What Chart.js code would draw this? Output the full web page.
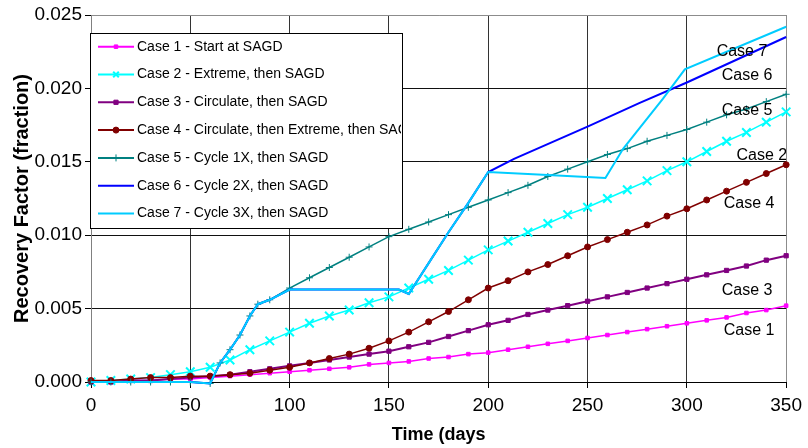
<!DOCTYPE html>
<html><head><meta charset="utf-8">
<script src="https://cdn.jsdelivr.net/npm/chart.js@4/dist/chart.umd.min.js"></script>
<style>html,body{margin:0;padding:0;background:#fff;}#wrap{width:808px;height:448px;}</style>
</head><body><div id="wrap"><canvas id="c" width="808" height="448"></canvas></div>
<script>
const seriesNames = [
  'Case 1 - Start at SAGD',
  'Case 2 - Extreme, then SAGD',
  'Case 3 - Circulate, then SAGD',
  'Case 4 - Circulate, then Extreme, then SAGD',
  'Case 5 - Cycle 1X, then SAGD',
  'Case 6 - Cycle 2X, then SAGD',
  'Case 7 - Cycle 3X, then SAGD'
];
const days10 = [0,10,20,30,40,50,60,70,80,90,100,110,120,130,140,150,160,170,180,190,200,210,220,230,240,250,260,270,280,290,300,310,320,330,340,350];
const case1 = [0.0000,0.0000,0.0001,0.0001,0.0002,0.0002,0.0003,0.0004,0.0005,0.0006,0.0007,0.0008,0.0009,0.0010,0.0012,0.0013,0.0014,0.0016,0.0017,0.0019,0.0020,0.0022,0.0024,0.0026,0.0028,0.0030,0.0032,0.0034,0.0036,0.0038,0.0040,0.0042,0.0044,0.0047,0.0049,0.0052];
const case2 = [0.0000,0.0001,0.0002,0.0003,0.0005,0.0007,0.0010,0.0015,0.0022,0.0028,0.0034,0.0040,0.0045,0.0049,0.0054,0.0058,0.0064,0.0070,0.0076,0.0083,0.0090,0.0096,0.0102,0.0108,0.0114,0.0119,0.0125,0.0131,0.0137,0.0144,0.0150,0.0157,0.0164,0.0170,0.0177,0.0184];
const case3 = [0.0000,0.0000,0.0001,0.0001,0.0002,0.0003,0.0004,0.0005,0.0007,0.0009,0.0011,0.0013,0.0015,0.0017,0.0019,0.0021,0.0024,0.0027,0.0031,0.0035,0.0039,0.0042,0.0046,0.0049,0.0052,0.0055,0.0058,0.0061,0.0064,0.0067,0.0070,0.0073,0.0076,0.0079,0.0083,0.0086];
const case4 = [0.0001,0.0001,0.0002,0.0003,0.0003,0.0004,0.0004,0.0005,0.0006,0.0008,0.0010,0.0013,0.0016,0.0019,0.0023,0.0028,0.0034,0.0041,0.0048,0.0056,0.0064,0.0069,0.0075,0.0080,0.0086,0.0092,0.0097,0.0102,0.0107,0.0113,0.0118,0.0124,0.0130,0.0136,0.0142,0.0148];
const case5Days = [0,10,20,30,40,50,60,65,70,75,80,84,90,100,110,120,130,140,150,160,170,180,190,200,210,220,230,240,250,260,270,280,290,300,310,320,330,340,350];
const case5 = [0,0,0,0,0,0,-0.0001,0.0013,0.0022,0.0032,0.0045,0.0053,0.0056,0.0064,0.0071,0.0078,0.0085,0.0092,0.0099,0.0104,0.0109,0.0114,0.0119,0.0124,0.0129,0.0134,0.0140,0.0145,0.0150,0.0155,0.0159,0.0164,0.0168,0.0172,0.0177,0.0182,0.0186,0.0191,0.0196];
const case6Days = [0,50,60,65,70,75,80,84,90,100,150,155,160,170,180,190,200,213,250,276,300,350];
const case6 = [0,0,-0.0001,0.0013,0.0022,0.0032,0.0045,0.0053,0.0056,0.0063,0.0063,0.0063,0.0060,0.0081,0.0102,0.0122,0.0143,0.0152,0.0174,0.0190,0.0204,0.0235];
const case7Days = [0,50,60,65,70,75,80,84,90,100,150,155,160,170,180,190,200,230,259,268,288,299,350];
const case7 = [0,0,-0.0001,0.0013,0.0022,0.0032,0.0045,0.0053,0.0056,0.0063,0.0063,0.0063,0.0060,0.0081,0.0102,0.0122,0.0143,0.0141,0.0139,0.0159,0.0193,0.0213,0.0242];
const xTicks = [0,50,100,150,200,250,300,350];
const yTicks = [0,0.005,0.010,0.015,0.020,0.025];
const endLabels = ['Case 7','Case 6','Case 5','Case 2','Case 4','Case 3','Case 1'];
const endLabelDays = [315,317.6,317.6,325,318.6,317.6,318.6];
const endLabelValues = [0.02250,0.02090,0.01850,0.01540,0.01215,0.00625,0.00350];

const FONT = "'Liberation Sans', Arial, sans-serif";
const pts = (d, v) => d.map((x, i) => ({x: x, y: v[i]}));

const styles = [
  {color:'#FF00FF', pointStyle:'rect', radius:2.5, bw:1.5, pbw:1},
  {color:'#00FFFF', pointStyle:'crossRot', radius:6, bw:1.5, pbw:2},
  {color:'#800080', pointStyle:'rect', radius:3, bw:2, pbw:1},
  {color:'#800000', pointStyle:'circle', radius:3, bw:1.5, pbw:1},
  {color:'#008080', pointStyle:'cross', radius:3.5, bw:1.5, pbw:1},
  {color:'#0000FF', pointStyle:false, radius:0, bw:2, pbw:1},
  {color:'#00CCFF', pointStyle:false, radius:0, bw:2, pbw:1}
];
const seriesData = [pts(days10,case1), pts(days10,case2), pts(days10,case3), pts(days10,case4), pts(case5Days,case5), pts(case6Days,case6), pts(case7Days,case7)];

const datasets = seriesNames.map((n, i) => ({
  label: n,
  data: seriesData[i],
  borderColor: styles[i].color,
  backgroundColor: styles[i].color,
  pointBorderColor: styles[i].color,
  pointBackgroundColor: styles[i].color,
  borderWidth: styles[i].bw,
  pointStyle: styles[i].pointStyle || 'circle',
  pointRadius: styles[i].radius,
  pointBorderWidth: styles[i].pbw,
  tension: 0,
  fill: false,
  clip: false,
  order: 7 - i
}));

const endLabelPlugin = {
  id: 'endLabels',
  afterDatasetsDraw(chart) {
    const {ctx, chartArea: a, scales: {x, y}} = chart;
    ctx.save();
    ctx.beginPath(); ctx.rect(a.left, a.top, a.right - a.left, a.bottom - a.top); ctx.clip();
    ctx.font = '16px ' + FONT; ctx.fillStyle = '#000'; ctx.textAlign = 'left'; ctx.textBaseline = 'middle';
    endLabels.forEach((t, i) => ctx.fillText(t, x.getPixelForValue(endLabelDays[i]), y.getPixelForValue(endLabelValues[i])));
    ctx.restore();
  }
};

const legendPlugin = {
  id: 'boxLegend',
  afterDraw(chart) {
    const ctx = chart.ctx;
    const L = 90, T = 33, R = 402, B = 228;
    ctx.save();
    ctx.fillStyle = '#fff'; ctx.fillRect(L, T, R - L, B - T);
    ctx.strokeStyle = '#000'; ctx.lineWidth = 1; ctx.strokeRect(L + 0.5, T + 0.5, R - L, B - T);
    ctx.beginPath(); ctx.rect(L + 1, T + 1, R - L - 2, B - T - 2); ctx.clip();
    chart.data.datasets.forEach((ds, i) => {
      const yy = 46.7 + i * 27.8;
      ctx.strokeStyle = ds.borderColor; ctx.lineWidth = 2;
      ctx.beginPath(); ctx.moveTo(98, yy); ctx.lineTo(134, yy); ctx.stroke();
      if (ds.pointRadius > 0 && Chart.helpers && Chart.helpers.drawPoint) {
        ctx.fillStyle = ds.backgroundColor; ctx.strokeStyle = ds.borderColor; ctx.lineWidth = ds.pointBorderWidth;
        Chart.helpers.drawPoint(ctx, {pointStyle: ds.pointStyle, radius: Math.min(ds.pointRadius, 4), borderWidth: ds.pointBorderWidth, rotation: 0}, 116, yy);
      }
      ctx.fillStyle = '#000'; ctx.font = '14px ' + FONT; ctx.textAlign = 'left'; ctx.textBaseline = 'middle';
      ctx.fillText(ds.label, 137, yy);
    });
    ctx.restore();
  }
};

new Chart(document.getElementById('c'), {
  type: 'line',
  data: {datasets},
  options: {
    responsive: false, animation: false, devicePixelRatio: 1,
    layout: {padding: {top: 15, right: 21, left: 0, bottom: 0}},
    plugins: {legend: {display: false}, tooltip: {enabled: false}},
    scales: {
      x: {
        type: 'linear', min: 0, max: 350,
        afterBuildTicks: s => { s.ticks = xTicks.map(v => ({value: v})); },
        afterFit: s => { s.height = 66; },
        grid: {color: c => (c.tick && c.tick.value === 350) ? '#8c8c8c' : '#333', lineWidth: 1, tickLength: 6, tickColor: '#000'},
        border: {color: '#000'},
        ticks: {font: {size: 19, family: FONT}, color: '#000', padding: 6, maxRotation: 0, autoSkip: false},
        title: {display: true, text: 'Time (days', color: '#000', font: {size: 18, weight: 'bold', family: FONT}, padding: {top: 2, bottom: 2}}
      },
      y: {
        type: 'linear', min: 0, max: 0.025,
        afterBuildTicks: s => { s.ticks = yTicks.map(v => ({value: v})); },
        afterFit: s => { s.width = 91; },
        grid: {color: c => (c.tick && c.tick.value >= 0.0249) ? '#8c8c8c' : '#111', lineWidth: 1, tickLength: 6, tickColor: '#000'},
        border: {color: '#808080'},
        ticks: {font: {size: 19, family: FONT}, color: '#000', padding: 3, callback: v => Number(v).toFixed(3)},
        title: {display: true, text: 'Recovery Factor (fraction)', color: '#000', font: {size: 20, weight: 'bold', family: FONT}, padding: {top: 10, bottom: 10}}
      }
    }
  },
  plugins: [endLabelPlugin, legendPlugin]
});
</script></body></html>
